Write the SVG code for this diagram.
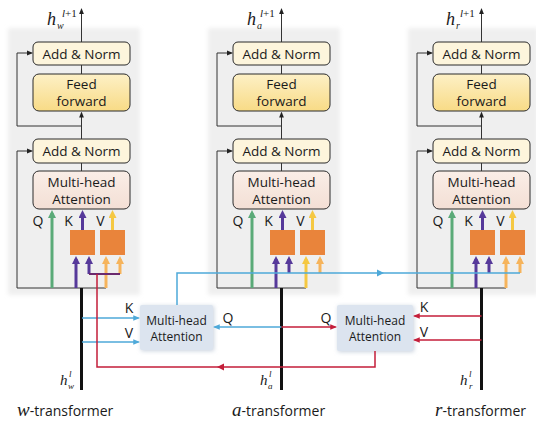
<svg xmlns="http://www.w3.org/2000/svg" width="536" height="430" viewBox="0 0 536 430">
<style>
.panel{fill:#efefef;filter:url(#soft)}
.an{fill:#fdf5dc;stroke:#2b2b2b;stroke-width:1}
.ff{fill:url(#gFF);stroke:#2b2b2b;stroke-width:1}
.mha{fill:url(#gMHA);stroke:#2b2b2b;stroke-width:1}
.org{fill:#e9843b}
.xm{fill:#dce4ef}
.xsh{fill:#c9d2de;filter:url(#soft)}
.t{font-family:"Open Sans","Liberation Sans",sans-serif;font-size:13.5px;fill:#1a1a1a;text-anchor:middle}
.ts{font-family:"Open Sans","Liberation Sans",sans-serif;font-size:12px;fill:#1a1a1a;text-anchor:middle}
.lab{font-family:"Open Sans","Liberation Sans",sans-serif;font-size:14px;fill:#1a1a1a;text-anchor:middle}
.mi{font-family:"Liberation Serif","DejaVu Serif",serif;font-style:italic;fill:#1a1a1a}
.mu{font-family:"Liberation Serif","DejaVu Serif",serif;fill:#1a1a1a}
.sans{font-family:"Open Sans","Liberation Sans",sans-serif;font-size:14px;font-style:normal;fill:#1a1a1a}
.thin{fill:none;stroke:#333;stroke-width:1}
.trunk{fill:none;stroke:#111;stroke-width:3}
.g{fill:none;stroke:#5aaa78;stroke-width:3}
.p{fill:none;stroke:#56399a;stroke-width:3}
.y{fill:none;stroke:#f5c842;stroke-width:3}
.o{fill:none;stroke:#f6b45c;stroke-width:3}
.bl{fill:none;stroke:#4ea9d9;stroke-width:1.5}
.rd{fill:none;stroke:#c41e3a;stroke-width:1.5}
</style>
<defs>
<filter id="soft" x="-10%" y="-10%" width="120%" height="120%"><feGaussianBlur stdDeviation="2"/></filter>
<linearGradient id="gFF" x1="0" y1="0" x2="0" y2="1"><stop offset="0" stop-color="#fdf0c6"/><stop offset="1" stop-color="#f8db86"/></linearGradient>
<linearGradient id="gMHA" x1="0" y1="0" x2="0" y2="1"><stop offset="0" stop-color="#faeee7"/><stop offset="1" stop-color="#f3dfd5"/></linearGradient>
<marker id="aK" viewBox="0 0 10 10" refX="7.5" refY="5" markerWidth="6" markerHeight="6" markerUnits="userSpaceOnUse" orient="auto"><path d="M0,1 L10,5 L0,9 z" fill="#222"/></marker>
<marker id="aB" viewBox="0 0 10 10" refX="7.5" refY="5" markerWidth="7" markerHeight="7" markerUnits="userSpaceOnUse" orient="auto"><path d="M0,1 L10,5 L0,9 z" fill="#4ea9d9"/></marker>
<marker id="aR" viewBox="0 0 10 10" refX="7.5" refY="5" markerWidth="7" markerHeight="7" markerUnits="userSpaceOnUse" orient="auto"><path d="M0,1 L10,5 L0,9 z" fill="#c41e3a"/></marker>
<marker id="aG" viewBox="0 0 10 10" refX="6.25" refY="5" markerWidth="8" markerHeight="8" markerUnits="userSpaceOnUse" orient="auto"><path d="M0,0 L10,5 L0,10 z" fill="#5aaa78"/></marker>
<marker id="aP" viewBox="0 0 10 10" refX="6.25" refY="5" markerWidth="8" markerHeight="8" markerUnits="userSpaceOnUse" orient="auto"><path d="M0,0 L10,5 L0,10 z" fill="#56399a"/></marker>
<marker id="aY" viewBox="0 0 10 10" refX="6.25" refY="5" markerWidth="8" markerHeight="8" markerUnits="userSpaceOnUse" orient="auto"><path d="M0,0 L10,5 L0,10 z" fill="#f5c842"/></marker>
<marker id="aO" viewBox="0 0 10 10" refX="6.25" refY="5" markerWidth="8" markerHeight="8" markerUnits="userSpaceOnUse" orient="auto"><path d="M0,0 L10,5 L0,10 z" fill="#f6b45c"/></marker>
</defs>

<g id="panels">
<rect class="panel" x="8" y="28" width="132" height="267"/>
<rect class="panel" x="208" y="28" width="132" height="267"/>
<rect class="panel" x="408" y="28" width="130" height="267"/>
</g>

<!-- w-transformer nodes -->
<g id="w-addnorm1"><rect class="an" x="33" y="42" width="97" height="23" rx="5"/><text class="t" x="81.5" y="58.5">Add &amp; Norm</text></g>
<g id="w-ff"><rect class="ff" x="33" y="74" width="97" height="37" rx="6"/><text class="t" x="81.5" y="89">Feed</text><text class="t" x="81.5" y="105.5">forward</text></g>
<g id="w-addnorm2"><rect class="an" x="33" y="139" width="97" height="24" rx="5"/><text class="t" x="81.5" y="156">Add &amp; Norm</text></g>
<g id="w-mha"><rect class="mha" x="33" y="171" width="97" height="38" rx="6"/><text class="t" x="81.5" y="187">Multi-head</text><text class="t" x="81.5" y="204">Attention</text></g>
<g id="w-lin1"><rect class="org" x="70" y="230" width="25" height="25"/></g>
<g id="w-lin2"><rect class="org" x="100" y="230" width="25" height="25"/></g>

<!-- a-transformer nodes -->
<g id="a-addnorm1"><rect class="an" x="233" y="42" width="97" height="23" rx="5"/><text class="t" x="281.5" y="58.5">Add &amp; Norm</text></g>
<g id="a-ff"><rect class="ff" x="233" y="74" width="97" height="37" rx="6"/><text class="t" x="281.5" y="89">Feed</text><text class="t" x="281.5" y="105.5">forward</text></g>
<g id="a-addnorm2"><rect class="an" x="233" y="139" width="97" height="24" rx="5"/><text class="t" x="281.5" y="156">Add &amp; Norm</text></g>
<g id="a-mha"><rect class="mha" x="233" y="171" width="97" height="38" rx="6"/><text class="t" x="281.5" y="187">Multi-head</text><text class="t" x="281.5" y="204">Attention</text></g>
<g id="a-lin1"><rect class="org" x="270" y="230" width="25" height="25"/></g>
<g id="a-lin2"><rect class="org" x="300" y="230" width="25" height="25"/></g>

<!-- r-transformer nodes -->
<g id="r-addnorm1"><rect class="an" x="433" y="42" width="97" height="23" rx="5"/><text class="t" x="481.5" y="58.5">Add &amp; Norm</text></g>
<g id="r-ff"><rect class="ff" x="433" y="74" width="97" height="37" rx="6"/><text class="t" x="481.5" y="89">Feed</text><text class="t" x="481.5" y="105.5">forward</text></g>
<g id="r-addnorm2"><rect class="an" x="433" y="139" width="97" height="24" rx="5"/><text class="t" x="481.5" y="156">Add &amp; Norm</text></g>
<g id="r-mha"><rect class="mha" x="433" y="171" width="97" height="38" rx="6"/><text class="t" x="481.5" y="187">Multi-head</text><text class="t" x="481.5" y="204">Attention</text></g>
<g id="r-lin1"><rect class="org" x="470" y="230" width="25" height="25"/></g>
<g id="r-lin2"><rect class="org" x="500" y="230" width="25" height="25"/></g>

<!-- cross attention nodes -->
<g id="cross-wa"><rect class="xsh" x="141" y="306" width="73" height="45"/><rect class="xm" x="140" y="305" width="73" height="45" rx="2"/><text class="ts" x="176.5" y="325">Multi-head</text><text class="ts" x="176.5" y="341">Attention</text></g>
<g id="cross-ra"><rect class="xsh" x="338" y="306" width="76" height="46"/><rect class="xm" x="337" y="305" width="76" height="46" rx="2"/><text class="ts" x="375" y="325">Multi-head</text><text class="ts" x="375" y="341">Attention</text></g>

<g id="connectors">
<!-- w column -->
<path class="thin" d="M81.5 42 V9.5" marker-end="url(#aK)"/>
<path class="thin" d="M81.5 74 V65"/>
<path class="thin" d="M81.5 139 V113" marker-end="url(#aK)"/>
<path class="thin" d="M81.5 171 V163"/>
<path class="thin" d="M81.5 126 H17 V53 H31.5" marker-end="url(#aK)"/>
<path class="thin" d="M17 288 V151 H31.5" marker-end="url(#aK)"/>
<path class="thin" d="M17 288 H106"/>
<path class="g" d="M52 288 V213" marker-end="url(#aG)"/>
<path class="p" d="M82.5 230 V213" marker-end="url(#aP)"/>
<path class="y" d="M112.5 230 V213" marker-end="url(#aY)"/>
<path class="p" d="M76 288 V259" marker-end="url(#aP)"/>
<path class="p" d="M89 274 V259" marker-end="url(#aP)"/>
<path class="o" d="M106 288 V259" marker-end="url(#aO)"/>
<path class="o" d="M120 274 V259" marker-end="url(#aO)"/>
<path fill="none" stroke="#6b2a6e" stroke-width="2" d="M89 274 H120"/>
<path class="trunk" d="M81.5 288 V390"/>
<!-- a column -->
<path class="thin" d="M281.5 42 V9.5" marker-end="url(#aK)"/>
<path class="thin" d="M281.5 74 V65"/>
<path class="thin" d="M281.5 139 V113" marker-end="url(#aK)"/>
<path class="thin" d="M281.5 171 V163"/>
<path class="thin" d="M281.5 126 H217 V53 H231.5" marker-end="url(#aK)"/>
<path class="thin" d="M217 288 V151 H231.5" marker-end="url(#aK)"/>
<path class="thin" d="M217 288 H306"/>
<path class="g" d="M252 288 V213" marker-end="url(#aG)"/>
<path class="p" d="M282.5 230 V213" marker-end="url(#aP)"/>
<path class="y" d="M312.5 230 V213" marker-end="url(#aY)"/>
<path class="p" d="M276 288 V259" marker-end="url(#aP)"/>
<path class="p" d="M289 273 V259" marker-end="url(#aP)"/>
<path class="y" d="M306 288 V259" marker-end="url(#aY)"/>
<path class="o" d="M320 273 V259" marker-end="url(#aO)"/>
<path class="trunk" d="M281.5 288 V390"/>
<!-- r column -->
<path class="thin" d="M481.5 42 V9.5" marker-end="url(#aK)"/>
<path class="thin" d="M481.5 74 V65"/>
<path class="thin" d="M481.5 139 V113" marker-end="url(#aK)"/>
<path class="thin" d="M481.5 171 V163"/>
<path class="thin" d="M481.5 126 H417 V53 H431.5" marker-end="url(#aK)"/>
<path class="thin" d="M417 288 V151 H431.5" marker-end="url(#aK)"/>
<path class="thin" d="M417 288 H506"/>
<path class="g" d="M452 288 V213" marker-end="url(#aG)"/>
<path class="p" d="M482.5 230 V213" marker-end="url(#aP)"/>
<path class="y" d="M512.5 230 V213" marker-end="url(#aY)"/>
<path class="p" d="M476 288 V259" marker-end="url(#aP)"/>
<path class="p" d="M489 273 V259" marker-end="url(#aP)"/>
<path class="o" d="M506 288 V259" marker-end="url(#aO)"/>
<path class="o" d="M520 273 V259" marker-end="url(#aO)"/>
<path class="trunk" d="M481.5 288 V390"/>
<!-- cross connections -->
<path class="bl" d="M82 318 H138.5" marker-end="url(#aB)"/>
<path class="bl" d="M82 342 H138.5" marker-end="url(#aB)"/>
<path class="bl" d="M281.5 327 H214.5" marker-end="url(#aB)"/>
<path class="bl" d="M177 305 V273 H520"/>
<polygon points="377,269.5 384,273 377,276.5" fill="#4ea9d9"/>
<path class="rd" d="M281.5 327 H335.5" marker-end="url(#aR)"/>
<path class="rd" d="M481.5 316 H414.5" marker-end="url(#aR)"/>
<path class="rd" d="M481.5 340 H414.5" marker-end="url(#aR)"/>
<path class="rd" d="M375 351 V367 H97 V274"/>
<polygon points="224,363.5 217,367 224,370.5" fill="#c41e3a"/>
</g>

<g id="labels">
<text class="lab" x="38" y="226">Q</text><text class="lab" x="68.5" y="226">K</text><text class="lab" x="100.5" y="226">V</text>
<text class="lab" x="238" y="226">Q</text><text class="lab" x="268.5" y="226">K</text><text class="lab" x="300.5" y="226">V</text>
<text class="lab" x="438" y="226">Q</text><text class="lab" x="468.5" y="226">K</text><text class="lab" x="500.5" y="226">V</text>
<text class="lab" x="129" y="313">K</text><text class="lab" x="129" y="338">V</text>
<text class="lab" x="228" y="323">Q</text>
<text class="lab" x="326" y="323">Q</text>
<text class="lab" x="424" y="312">K</text><text class="lab" x="424" y="337">V</text>
<!-- top outputs -->
<text class="mi" x="47" y="25" font-size="18">h</text><text class="mi" x="57" y="29" font-size="10">w</text><text class="mi" x="62" y="17" font-size="11">l<tspan class="mu" font-style="normal">+1</tspan></text>
<text class="mi" x="247" y="25" font-size="18">h</text><text class="mi" x="257" y="29" font-size="10">a</text><text class="mi" x="260" y="17" font-size="11">l<tspan class="mu" font-style="normal">+1</tspan></text>
<text class="mi" x="446" y="25" font-size="18">h</text><text class="mi" x="456" y="29" font-size="10">r</text><text class="mi" x="460" y="17" font-size="11">l<tspan class="mu" font-style="normal">+1</tspan></text>
<!-- bottom inputs -->
<text class="mi" x="60" y="385" font-size="15" fill="#444">h</text><text class="mi" x="68" y="389" font-size="9">w</text><text class="mi" x="69" y="377" font-size="9">l</text>
<text class="mi" x="260" y="385" font-size="15">h</text><text class="mi" x="268" y="389" font-size="9">a</text><text class="mi" x="269" y="377" font-size="9">l</text>
<text class="mi" x="460" y="385" font-size="15">h</text><text class="mi" x="469" y="389" font-size="9">r</text><text class="mi" x="469" y="377" font-size="9">l</text>
<!-- titles -->
<text x="17" y="416"><tspan class="mi" font-size="19">w</tspan><tspan class="sans">-transformer</tspan></text>
<text x="232" y="416"><tspan class="mi" font-size="19">a</tspan><tspan class="sans">-transformer</tspan></text>
<text x="435" y="416"><tspan class="mi" font-size="19">r</tspan><tspan class="sans">-transformer</tspan></text>
</g>
</svg>
